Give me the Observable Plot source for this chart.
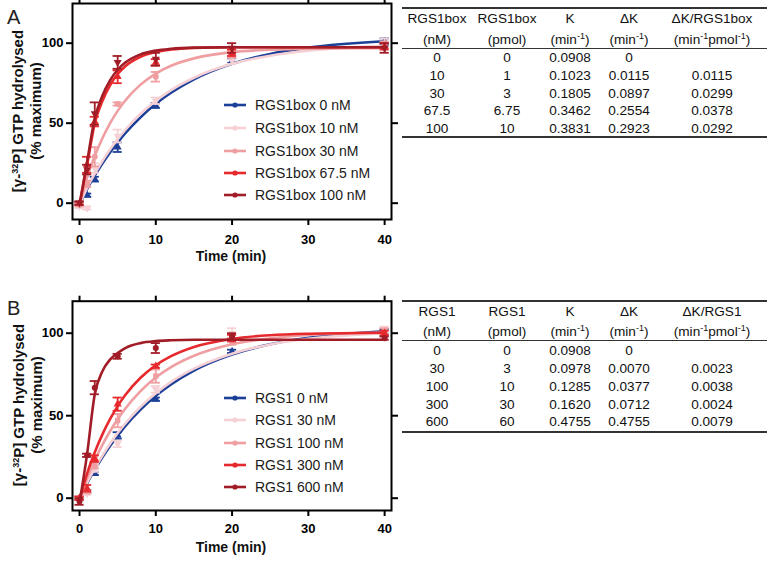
<!DOCTYPE html>
<html><head><meta charset="utf-8">
<script src="https://cdn.jsdelivr.net/npm/d3@7"></script>
<script src="https://cdn.jsdelivr.net/npm/@observablehq/plot@0.6"></script>
<style>
body{margin:0;background:#fff;font-family:"Liberation Sans",Arial,sans-serif;color:#111;}
#root{position:relative;width:776px;height:562px;overflow:hidden;background:#fff;}
.abs{position:absolute;white-space:nowrap;}
sup{font-size:9px;vertical-align:5px;line-height:0;}
</style></head>
<body><div id="root"></div>
<script>
// ---------------- DATA ----------------
const times = [0, 1, 2, 5, 10, 20, 40];
const fitTimes = [0, 1, 2, 3, 4, 5, 6, 8, 10, 12, 15, 20, 25, 30, 40];
const xTicks = [0, 10, 20, 30, 40];
const yTicks = [0, 50, 100];

// Panel A: RGS1box
const labelsA = ["RGS1box 0 nM", "RGS1box 10 nM", "RGS1box 30 nM", "RGS1box 67.5 nM", "RGS1box 100 nM"];
const meanA0 = [0, 5, 15, 35, 61, 89, 101];
const meanA10 = [-2, -3, 22, 42, 64, 89, 100];
const meanA30 = [-1, 12, 29, 62, 79, 93, 99];
const meanA67 = [0, 24, 51, 79, 88, 94, 98];
const meanA100 = [0, 21, 56, 88, 90, 97, 97];
const errA0 = [1, 1, 1.5, 3, 1.5, 1.5, 2];
const errA10 = [1, 1, 3, 4, 2, 2, 3];
const errA30 = [1, 2, 6, 1, 3, 2, 2];
const errA67 = [1, 5, 3, 4, 2, 2, 2];
const errA100 = [1, 3, 7, 4, 4, 3, 3];
const fitA0 = [-1, 9.0, 17.3, 24.8, 31.7, 37.9, 43.7, 53.7, 62.1, 69.0, 77.4, 87.1, 93.3, 97.2, 101.2];
const fitA10 = [-1, 9.7, 18.5, 26.4, 33.6, 40.0, 45.9, 55.9, 64.0, 70.7, 78.4, 87.1, 92.2, 95.3, 98.3];
const fitA30 = [-1, 16.0, 29.4, 40.6, 49.9, 57.7, 64.2, 74.1, 81.0, 85.9, 90.5, 94.4, 95.9, 96.6, 96.9];
const fitA67 = [-1, 24, 50, 63.9, 73.7, 80.7, 85.6, 91.5, 94.5, 96.0, 97.0, 97.5, 97.5, 97.5, 97.5];
const fitA100 = [-1, 26, 53, 67.2, 76.8, 83.4, 87.9, 93.0, 95.4, 96.5, 97.2, 97.5, 97.5, 97.5, 97.5];

// Panel B: RGS1
const labelsB = ["RGS1 0 nM", "RGS1 30 nM", "RGS1 100 nM", "RGS1 300 nM", "RGS1 600 nM"];
const meanB0 = [0, 4, 15, 38, 60, 89, 101];
const meanB30 = [0, 3, 18, 33, 66, 100, 102];
const meanB100 = [0, 4, 20, 47, 74, 95, 101];
const meanB300 = [0, 6, 24, 57, 80, 97, 100];
const meanB600 = [-2, 26, 67, 86, 91, 98, 97];
const errB0 = [1, 1, 1, 2, 1, 1, 1.5];
const errB30 = [1, 1, 2, 2, 2, 3, 2];
const errB100 = [1, 1, 2, 4, 4, 2, 2];
const errB300 = [1, 2, 2, 4, 1, 2, 1.5];
const errB600 = [2, 1, 4, 1.5, 3, 2, 1];
const fitB0 = [-1, 9.0, 17.3, 24.8, 31.7, 37.9, 43.7, 53.7, 62.1, 69.0, 77.4, 87.1, 93.3, 97.2, 101.2];
const fitB30 = [-1, 9.5, 18.1, 25.9, 33.0, 39.5, 45.3, 55.4, 63.6, 70.5, 78.5, 87.6, 93.2, 96.6, 100.0];
const fitB100 = [-1, 12.2, 22.9, 32.3, 40.6, 47.9, 54.3, 64.9, 73.1, 79.4, 86.3, 93.3, 96.9, 98.9, 100.4];
const fitB300 = [-1, 15.0, 27.8, 38.7, 47.9, 55.8, 62.5, 73.0, 80.6, 86.1, 91.7, 96.6, 98.8, 99.7, 100.3];
const fitB600 = [-3, 27, 63, 77, 84, 88, 91, 94, 95.2, 95.7, 96, 96, 96, 96, 96];

// Tables
const tableHeadA1 = ["RGS1box", "RGS1box", "K", "ΔK", "ΔK/RGS1box"];
const tableHeadB1 = ["RGS1", "RGS1", "K", "ΔK", "ΔK/RGS1"];
const tableHead2 = ["(nM)", "(pmol)", "(min<sup>-1</sup>)", "(min<sup>-1</sup>)", "(min<sup>-1</sup>pmol<sup>-1</sup>)"];
const tA_nM = ["0", "10", "30", "67.5", "100"];
const tA_pmol = ["0", "1", "3", "6.75", "10"];
const tA_K = ["0.0908", "0.1023", "0.1805", "0.3462", "0.3831"];
const tA_dK = ["0", "0.0115", "0.0897", "0.2554", "0.2923"];
const tA_ratio = ["", "0.0115", "0.0299", "0.0378", "0.0292"];
const tB_nM = ["0", "30", "100", "300", "600"];
const tB_pmol = ["0", "3", "10", "30", "60"];
const tB_K = ["0.0908", "0.0978", "0.1285", "0.1620", "0.4755"];
const tB_dK = ["0", "0.0070", "0.0377", "0.0712", "0.4755"];
const tB_ratio = ["", "0.0023", "0.0038", "0.0024", "0.0079"];

// ---------------- STYLE ----------------
const colors = ["#1c3f98", "#f5d1d5", "#ef9ea1", "#e6292c", "#a01d27"];
const symbolsA = [["triangle",0],["triangle",180],["circle",0],["triangle",0],["triangle",180]];
const symbolsB = [["triangle",0],["triangle",180],["square",0],["triangle",0],["circle",0]];
const FONT = '"Liberation Sans", Arial, sans-serif';
const root = document.getElementById("root");
function addDiv(html, css) {
  const d = document.createElement("div");
  d.className = "abs";
  d.innerHTML = html;
  Object.assign(d.style, css);
  root.appendChild(d);
  return d;
}

function buildPanel(cfg) {
  const marks = [];
  cfg.series.forEach((s, i) => {
    const c = colors[i];
    const fit = fitTimes.map((t, j) => ({t, v: s.fit[j]}));
    const pts = times.map((t, j) => ({t, v: s.mean[j], e: s.err[j]}));
    marks.push(Plot.line(fit, {x: "t", y: "v", stroke: c, strokeWidth: 2.6, curve: "monotone-x"}));
    marks.push(Plot.ruleX(pts, {x: "t", y1: d => d.v - d.e, y2: d => d.v + d.e, stroke: c, strokeWidth: 1.8}));
    marks.push(Plot.ruleY(pts, {y: d => d.v + d.e, x1: d => d.t - 0.6, x2: d => d.t + 0.6, stroke: c, strokeWidth: 1.8}));
    marks.push(Plot.ruleY(pts, {y: d => d.v - d.e, x1: d => d.t - 0.6, x2: d => d.t + 0.6, stroke: c, strokeWidth: 1.8}));
    marks.push(Plot.dot(pts, {x: "t", y: "v", fill: c, stroke: "none", r: 3, symbol: cfg.symbols[i][0], rotate: cfg.symbols[i][1]}));
  });
  marks.push(Plot.frame({stroke: "black", strokeWidth: 2}));
  marks.push(Plot.axisY({ticks: yTicks, tickSize: 6, tickPadding: 3, strokeWidth: 2, label: null}));
  marks.push(Plot.axisY({anchor: "right", ticks: yTicks, tickSize: 6, strokeWidth: 2, fill: "none", label: null}));
  marks.push(Plot.axisX({ticks: xTicks, tickSize: 6, tickPadding: cfg.xPad, strokeWidth: 2, label: null}));
  marks.push(Plot.axisX({anchor: "top", ticks: xTicks, tickSize: 6, strokeWidth: 2, fill: "none", label: null}));
  const svg = Plot.plot({
    width: 400, height: cfg.height,
    marginLeft: 72, marginRight: 9, marginTop: cfg.marginTop, marginBottom: cfg.marginBottom,
    x: {domain: [-0.92, 40.9]},
    y: {domain: cfg.yDomain},
    style: {fontFamily: FONT, fontSize: "13px", fontWeight: "bold", color: "black", background: "transparent", overflow: "visible"},
    marks
  });
  svg.style.position = "absolute";
  svg.style.left = "0px";
  svg.style.top = cfg.top + "px";
  root.appendChild(svg);

  // panel letter
  addDiv(cfg.letter, {left: "7px", top: (cfg.letterTop) + "px", fontSize: "20px", lineHeight: "20px", color: "#222"});
  // y title (two lines, rotated)
  addDiv('[γ-<sup>32</sup>P] GTP hydrolysed<br>(% maximum)', {
    left: (cfg.yTitleX - 120) + "px", top: (cfg.yTitleY - 18) + "px", width: "240px", height: "36px",
    textAlign: "center", fontSize: "15px", lineHeight: "18px", fontWeight: "bold", transform: "rotate(-90deg)", color: "#111"
  });
  // x title
  addDiv("Time (min)", {left: "131px", width: "200px", textAlign: "center", top: (cfg.xTitleY - 9) + "px",
    fontSize: "14px", lineHeight: "18px", fontWeight: "bold", color: "#111"});
  // legend
  cfg.labels.forEach((lab, i) => {
    const y = cfg.legendY[i];
    addDiv(`<svg width="26" height="8" style="display:block"><line x1="1" y1="4" x2="23" y2="4" stroke="${colors[i]}" stroke-width="2.6"/><circle cx="12" cy="4" r="2.6" fill="${colors[i]}"/></svg>`,
      {left: "223px", top: (y - 4) + "px"});
    addDiv(lab, {left: "255px", top: (y - 9) + "px", fontSize: "14px", lineHeight: "18px", color: "#1a1a1a"});
  });
}

buildPanel({
  top: 0, height: 280, marginTop: 3, marginBottom: 61, yDomain: [-10.2, 124.8], xPad: 9,
  letter: "A", letterTop: 7, yTitleX: 26.5, yTitleY: 111, xTitleY: 256,
  labels: labelsA, legendY: [105, 128, 150.5, 172.5, 195], symbols: symbolsA,
  series: [
    {mean: meanA0, err: errA0, fit: fitA0},
    {mean: meanA10, err: errA10, fit: fitA10},
    {mean: meanA30, err: errA30, fit: fitA30},
    {mean: meanA67, err: errA67, fit: fitA67},
    {mean: meanA100, err: errA100, fit: fitA100}
  ]
});
buildPanel({
  top: 280, height: 282, marginTop: 20.7, marginBottom: 52, yDomain: [-7.45, 119.4], xPad: 7,
  letter: "B", letterTop: 298, yTitleX: 28, yTitleY: 405, xTitleY: 546.5,
  labels: labelsB, legendY: [397.5, 420, 442.5, 464.5, 487], symbols: symbolsB,
  series: [
    {mean: meanB0, err: errB0, fit: fitB0},
    {mean: meanB30, err: errB30, fit: fitB30},
    {mean: meanB100, err: errB100, fit: fitB100},
    {mean: meanB300, err: errB300, fit: fitB300},
    {mean: meanB600, err: errB600, fit: fitB600}
  ]
});

// ---------------- TABLES ----------------
const colX = [437, 507, 570, 629, 712];
function buildTable(cfg) {
  const rule = (y, w) => addDiv("", {left: "402px", width: "365px", top: (y - w / 2) + "px", height: "0px", borderTop: `${w}px solid #333`});
  rule(cfg.topRule, 2);
  rule(cfg.midRule, 1);
  rule(cfg.bottomRule, 2);
  const cell = (html, cx, cy) => addDiv(html, {left: (cx - 60) + "px", width: "120px", textAlign: "center", top: (cy - 8) + "px", fontSize: "13.6px", lineHeight: "16px", color: "#111"});
  cfg.head1.forEach((h, k) => cell(h, colX[k], cfg.head1Y));
  tableHead2.forEach((h, k) => cell(h, colX[k], cfg.head2Y));
  cfg.cols.forEach((col, k) => col.forEach((v, r) => { if (v !== "") cell(v, colX[k], cfg.rowY[r]); }));
}
buildTable({
  topRule: 8, midRule: 48.5, bottomRule: 137,
  head1Y: 18.5, head2Y: 39.5, rowY: [58, 76, 93.5, 111, 128.5],
  head1: tableHeadA1, cols: [tA_nM, tA_pmol, tA_K, tA_dK, tA_ratio]
});
buildTable({
  topRule: 301, midRule: 340, bottomRule: 431.5,
  head1Y: 311.5, head2Y: 331.5, rowY: [351, 368.5, 386.5, 404.5, 422],
  head1: tableHeadB1, cols: [tB_nM, tB_pmol, tB_K, tB_dK, tB_ratio]
});
</script>
</body></html>
